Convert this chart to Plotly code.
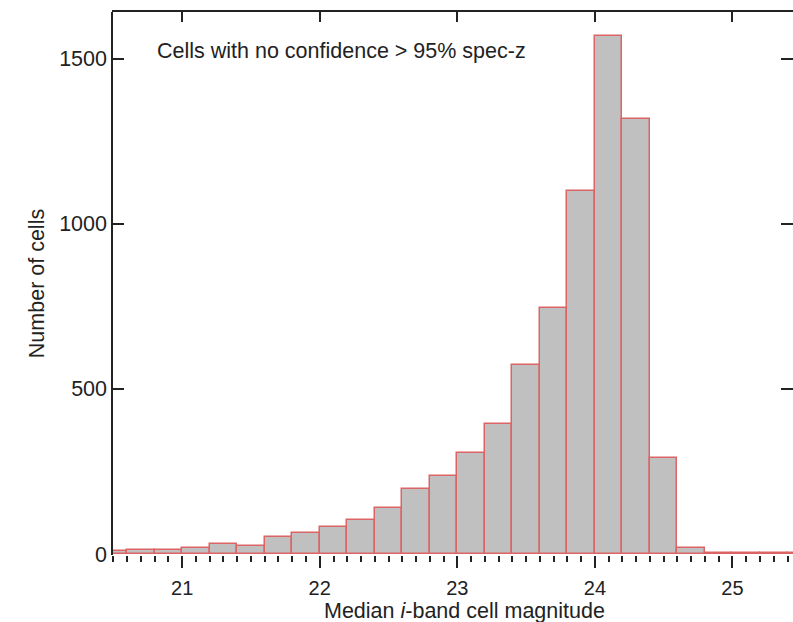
import plotly.graph_objects as go

# Histogram of median i-band magnitude per cell (bin width 0.2 mag)
bin_centers = [20.5, 20.7, 20.9, 21.1, 21.3, 21.5, 21.7, 21.9, 22.1, 22.3,
               22.5, 22.7, 22.9, 23.1, 23.3, 23.5, 23.7, 23.9, 24.1, 24.3,
               24.5, 24.7, 24.9, 25.1, 25.3, 25.5]
counts = [10, 11, 12, 17, 30, 25, 52, 63, 81, 103,
          140, 198, 235, 306, 393, 573, 746, 1100, 1568, 1318,
          292, 18, 4, 3, 2, 2]
bin_width = 0.2

x_major = [21, 22, 23, 24, 25]
y_major = [0, 500, 1000, 1500]

FONT = "Liberation Sans, Arial, Helvetica, sans-serif"
INK = "#222222"
FS = 21.5
X_RANGE = [20.49, 25.44]
Y_RANGE = [-3, 1642]

fig = go.Figure()
fig.add_trace(go.Bar(
    x=bin_centers, y=counts, width=bin_width,
    marker=dict(color="#c0c0c0", line=dict(color="#dc6464", width=1.5)),
    showlegend=False, hoverinfo="x+y",
))

fig.update_layout(
    width=793, height=622,
    margin=dict(l=112, r=0, t=12, b=67, autoexpand=False),
    paper_bgcolor="white", plot_bgcolor="white",
    font=dict(family=FONT, size=FS, color=INK),
    bargap=0,
    xaxis=dict(
        range=X_RANGE, tickvals=x_major, ticktext=[str(v) for v in x_major],
        ticks="outside", ticklen=12, tickwidth=1.5, tickcolor=INK,
        minor=dict(dtick=0.1, tick0=0, ticks="outside", ticklen=6,
                   tickwidth=1.5, tickcolor=INK),
        showline=False, showgrid=False, zeroline=False,
        ticklabelstandoff=3, tickfont=dict(size=20),
        title=dict(text=""), automargin=False,
    ),
    xaxis2=dict(
        range=X_RANGE, overlaying="x", side="top", tickvals=x_major,
        showticklabels=False, ticks="inside", ticklen=10, tickwidth=1.5,
        tickcolor=INK, showline=True, linecolor=INK, linewidth=2,
        showgrid=False, zeroline=False, automargin=False,
    ),
    yaxis=dict(
        range=Y_RANGE, tickvals=y_major, ticktext=[str(v) for v in y_major],
        ticks="inside", ticklen=12, tickwidth=1.5, tickcolor=INK,
        mirror="ticks", showline=False, showgrid=False, zeroline=False,
        ticklabelstandoff=4, automargin=False,
        title=dict(text="Number of cells", font=dict(size=FS), standoff=8),
    ),
    shapes=[dict(type="line", xref="paper", yref="paper", x0=0, x1=0,
                 y0=0, y1=1, line=dict(color=INK, width=2))],
    annotations=[
        dict(text="Cells with no confidence &gt; 95% spec-z",
             xref="paper", yref="paper", x=0.063, y=0.929,
             xanchor="left", yanchor="middle", showarrow=False,
             font=dict(size=FS, color=INK)),
        dict(text="Median <i>i</i>-band cell magnitude",
             xref="paper", yref="paper", x=0.517, y=-0.104,
             xanchor="center", yanchor="middle", showarrow=False,
             font=dict(size=FS, color=INK)),
    ],
)

# Give the top axis a (hidden) trace so it is laid out alongside the bottom one
fig.add_trace(go.Scatter(x=[X_RANGE[0]], y=[Y_RANGE[0]], xaxis="x2",
                         mode="markers", marker=dict(opacity=0),
                         showlegend=False, hoverinfo="skip"))

fig.write_html("out.html")
